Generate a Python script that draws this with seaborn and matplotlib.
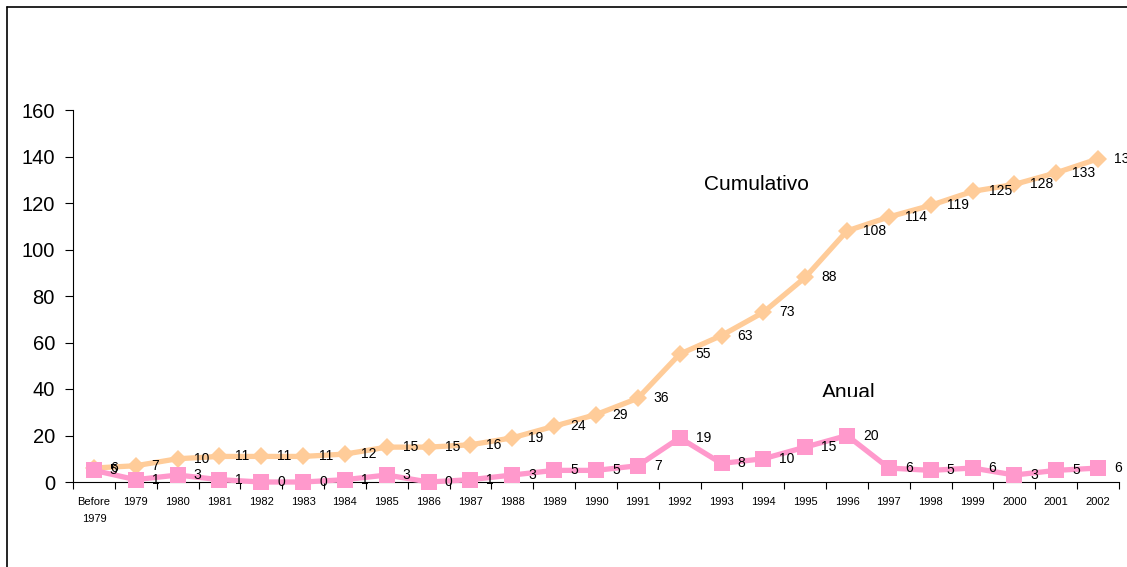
import matplotlib
matplotlib.use("Agg")
import matplotlib.pyplot as plt
import seaborn as sns
import pandas as pd
from matplotlib.lines import Line2D
from matplotlib.transforms import Bbox, TransformedBbox

# Years on the category axis
years = ["Before\n1979", "1979", "1980", "1981", "1982", "1983", "1984", "1985",
         "1986", "1987", "1988", "1989", "1990", "1991", "1992", "1993", "1994",
         "1995", "1996", "1997", "1998", "1999", "2000", "2001", "2002"]

# Yearly counts and running total
anual = [5, 1, 3, 1, 0, 0, 1, 3, 0, 1, 3, 5, 5, 7, 19, 8, 10, 15, 20, 6, 5, 6, 3, 5, 6]
cumulativo = [6, 7, 10, 11, 11, 11, 12, 15, 15, 16, 19, 24, 29, 36, 55, 63, 73, 88,
              108, 114, 119, 125, 128, 133, 139]

y_ticks = [0, 20, 40, 60, 80, 100, 120, 140, 160]

sns.set_theme(style="white")
plt.rcParams["font.family"] = ["Liberation Sans", "DejaVu Sans"]
plt.rcParams["text.color"] = "black"
plt.rcParams["xtick.color"] = "black"
plt.rcParams["ytick.color"] = "black"
plt.rcParams["xtick.labelcolor"] = "black"
plt.rcParams["ytick.labelcolor"] = "black"

W, H = 1127, 567
fig = plt.figure(figsize=(W / 100, H / 100), dpi=100)
ax = fig.add_axes([73 / W, (H - 482) / H, (1119 - 73) / W, (482 - 110) / H])

pos = list(range(len(years)))
df_cum = pd.DataFrame({"pos": pos, "valor": cumulativo})
df_anu = pd.DataFrame({"pos": pos, "valor": anual})

peach = "#FFCC99"
pink = "#FF99CC"

sns.lineplot(data=df_cum, x="pos", y="valor", ax=ax, color=peach, linewidth=3.8,
             marker="D", markersize=8.8, markeredgewidth=0, clip_on=False, zorder=3)
sns.lineplot(data=df_anu, x="pos", y="valor", ax=ax, color=pink, linewidth=3.8,
             marker="s", markersize=11, markeredgewidth=0, clip_on=False, zorder=4)

# Value labels to the right of each point
for x, v in zip(pos, cumulativo):
    ax.annotate(str(v), (x, v), xytext=(11.5, 0), textcoords="offset points",
                ha="left", va="center", fontsize=10, color="black",
                annotation_clip=False, zorder=5)
for x, v in zip(pos, anual):
    ax.annotate(str(v), (x, v), xytext=(11.5, 0), textcoords="offset points",
                ha="left", va="center", fontsize=10, color="black",
                annotation_clip=False, zorder=5)

# Axes styling
ax.set_xlim(-0.5, len(years) - 0.5)
ax.set_ylim(0, 160)
ax.set_yticks(y_ticks)
ax.set_yticklabels([str(t) for t in y_ticks], fontsize=14.5, color="black")
ax.set_xticks([p - 0.5 for p in pos] + [len(years) - 0.5])
ax.set_xticklabels([])
ax.set_xticks(pos, minor=True)
ax.set_xticklabels(years, minor=True, fontsize=8, linespacing=1.9, color="black")
ax.tick_params(axis="x", which="major", direction="out", length=5, width=0.8,
               color="black", bottom=True)
ax.tick_params(axis="x", which="minor", length=0, pad=11, bottom=True)
ax.tick_params(axis="y", direction="out", length=5.5, width=0.8, color="black",
               pad=7.5, left=True)
ax.set_xlabel("")
ax.set_ylabel("")
for s in ["top", "right"]:
    ax.spines[s].set_visible(False)
for s in ["left", "bottom"]:
    ax.spines[s].set_color("black")
    ax.spines[s].set_linewidth(0.8)
ax.set_facecolor("white")
ax.grid(False)

# Series names
fig.text(756 / W, 1 - 185 / H, "Cumulativo", fontsize=15, ha="center", va="center",
         color="black")
t = fig.text(822 / W, 1 - 398 / H, "Anual", fontsize=15, ha="left", va="baseline",
             color="black")
t.set_clip_box(TransformedBbox(Bbox.from_extents(0, (H - 397) / H, 1, 1), fig.transFigure))
t.set_clip_on(True)

# Outer frame (top and left edges)
fig.add_artist(Line2D([6.5 / W, 6.5 / W], [0, 1 - 7 / H], transform=fig.transFigure,
                      color="black", linewidth=1.2))
fig.add_artist(Line2D([6.5 / W, 1], [1 - 7 / H, 1 - 7 / H], transform=fig.transFigure,
                      color="black", linewidth=1.2))

fig.savefig("out.png", dpi=100, facecolor="white")
